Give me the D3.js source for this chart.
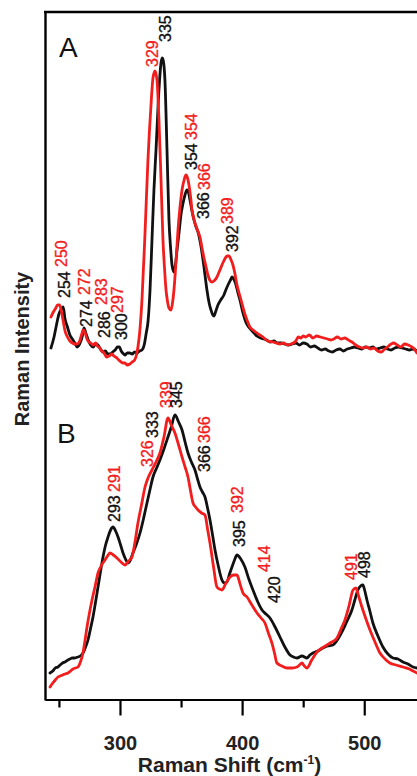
<!DOCTYPE html>
<html><head><meta charset="utf-8">
<script src="https://cdn.jsdelivr.net/npm/d3@7"></script>
<style>html,body{margin:0;padding:0;background:#fff;overflow:hidden}</style>
</head><body><svg id="c" width="417" height="776"></svg>
<script>
// ---------- data ----------
const xTicksMajor = [300, 400, 500];
const xTicksMinor = [250, 350, 450];
const xTitleMain = "Raman Shift (cm";
const xTitleSup = "-1";
const yTitle = "Raman Intensity";
const panelNames = [["A", 250.1, 642], ["B", 248.4, 256]];

// [wavenumber (cm-1), intensity (arb. units, panels stacked)]
const blackA = [[243.5,351],[246,362],[248,374],[250,385],[252,390],[253.5,392],[255,380],[257,372],[259,364],[261,360],[263,356],[265,352],[267,355],[269,362],[270.5,371],[272,366],[274,359],[276,354],[278,352],[280,355],[282,354],[284,350],[286,347],[288,348],[290,345],[292,345],[294,347],[296,349],[298,352],[299.5,352],[301,348],[303,345],[304,344],[306,346],[308,346],[310,345],[312,347],[314,346],[316,348],[318,349],[320,355],[321.5,366],[323,378],[324.6,409],[326.2,459],[327.8,509],[329.5,549],[331.9,609],[333.5,635],[334.5,641],[335.5,638],[336.8,619],[338.5,549],[340.1,479],[341.5,450],[342.6,434],[344.2,427],[345.5,435],[346.7,449],[348.5,468],[349.9,484],[351.5,495],[353.2,504],[354.9,509],[356.2,506],[357.3,499],[359,488],[360.6,479],[362.3,472],[363.9,467],[366,455],[368,439],[369.6,424],[371.2,409],[373,396],[374.5,389],[376,384],[377,383],[378.5,388],[380.2,394],[382.5,399],[385.1,404],[387,410],[389.2,416],[390.5,419],[391.7,422],[393.5,419],[395,414],[396.6,406],[398.2,399],[400.7,386],[403,377],[406,371],[409,367],[412,363],[415,361],[418,360],[420,359],[423,357],[426,358],[429,356],[432,356],[435,355],[438,354],[441,355],[444,356],[447,354],[450,356],[453,355],[456,352],[459,353],[462,351],[465,349],[468,350],[471,348],[474,347],[477,349],[480,350],[483,348],[486,350],[489,351],[492,352],[495,351],[498,350],[501,352],[504,351],[507,352],[510,350],[513,351],[516,352],[519,350],[522,349],[525,351],[528,352],[531,351],[534,350],[537,349],[540,350],[543.2,348]];
const redA = [[243.5,382],[245,386],[247,390],[249,394],[250.5,394],[252,388],[253.5,378],[255,368],[257,362],[259,358],[261,356],[263,355],[265,355],[267,358],[268.5,364],[270,369],[271.5,366],[273,360],[274.5,357],[276,356],[278,354],[280,356],[281.5,353],[283.6,351],[285,348],[287,346],[289,342],[291,343],[293.5,345],[295,343],[297.5,341],[299,339],[301,337],[302.5,336],[304,336],[306,334],[308,335],[310,337],[312,339],[313.5,344],[314.7,352],[316,365],[318,399],[320.5,466],[322.9,539],[325.4,594],[327,621],[328.7,628],[330.3,619],[331.9,579],[333.6,519],[335.2,459],[336.5,430],[337.7,409],[339,397],[340.1,391],[341.8,389],[343,396],[344.2,409],[346,440],[347.5,469],[349,490],[350.8,509],[352.5,519],[354,524],[355.3,521],[356.5,514],[358,500],[358.9,489],[360.5,480],[362.2,473],[364,467],[365.5,462],[367,452],[368.8,441],[370.5,432],[372,424],[373.5,419],[375.3,417],[377,418],[379.4,422],[381.5,428],[383.5,434],[385,438],[386.8,442],[388,443],[389.2,443],[391,439],[392.5,434],[394,426],[395.8,414],[397.5,406],[399.1,399],[402,386],[404,379],[406.4,372],[409,369],[411,367],[414.6,364],[418,361],[421,358],[425.3,357],[428,356],[431,355],[434,356],[437,354],[440,355],[442,356],[444,358],[446,362],[448,361],[450,363],[452,362],[455,364],[458,361],[461,363],[464,362],[467,361],[470,360],[473,359],[475,360],[478,362],[481,360],[484,361],[487,359],[490,357],[493,354],[496,352],[499,351],[502,352],[505,350],[508,351],[511,348],[514,347],[516,349],[519,352],[522,355],[524,356],[527,354],[530,352],[533,355],[536,354],[539,352],[541,350],[543.2,346]];
const blackB = [[242.7,26],[245,28],[247,31],[249.2,32],[251,34],[253,36],[255,37],[257.4,39],[259,40],[261,41],[263,41],[265.6,42],[267.5,43],[269.7,46],[271.5,51],[273.8,59],[275.8,70],[277.9,82],[280,97],[282,112],[284,127],[286.1,142],[288,153],[290.2,162],[292.3,169],[294.3,172],[296.4,168],[298.4,162],[300.5,154],[302.5,146],[304.5,140],[306.5,136],[308.5,139],[310.6,146],[313.5,155],[316.4,166],[319.2,180],[322.1,196],[324.5,209],[327,222],[330,231],[332.7,239],[336,250],[339.3,262],[342,272],[345,284],[348,277],[350.8,269],[353.3,257],[355.7,246],[358.5,237],[361.4,229],[363.5,220],[365.5,212],[367.5,207],[369.6,202],[371.7,191],[373.7,179],[375.8,164],[377.8,149],[380.5,133],[383.5,119],[385.5,116],[387.6,117],[389.7,125],[391.7,132],[393.8,139],[395.8,144],[398.9,140],[402.3,132],[405.5,120],[408.9,109],[412.5,98],[416.3,89],[419.5,85],[422.8,81],[427,72],[431,62],[435,52],[439.2,44],[442,42],[444.9,41],[449,43],[453.1,41],[455.5,44],[458,46],[462,48],[466.2,51],[470,53],[474.4,54],[478.5,60],[482.6,69],[486.3,79],[489.9,89],[492.3,99],[494.8,109],[497,113],[498.9,114],[500.5,108],[502.2,99],[504.6,88],[507.1,76],[511.2,63],[515.3,52],[519.4,45],[523.5,41],[527.6,40],[531.7,37],[535.8,35],[539.9,32],[543.2,31]];
const redB = [[242.7,12],[245,16],[247,19],[249.2,22],[251,23],[253,24],[255,25],[257.4,26],[259.5,28],[261.5,30],[263.5,31],[265.6,32],[267.6,37],[269.7,46],[271.3,58],[273,72],[275,86],[277.1,99],[279.5,112],[282,126],[285,134],[287.7,139],[289.8,143],[291.8,146],[294.6,144],[297.5,141],[300.8,137],[304.1,134],[307,138],[309.8,142],[312.3,157],[314.7,176],[317.6,194],[320.5,212],[323.3,222],[326.2,229],[329.5,237],[332.7,246],[336,262],[339.3,281],[342,274],[345,266],[348,254],[350.8,242],[353.3,232],[355.7,222],[357.8,208],[359.8,196],[361.9,192],[363.9,189],[366.8,186],[369.6,184],[371.7,170],[373.7,156],[376.5,133],[379.4,112],[381.5,110],[383.5,109],[386.8,116],[390.1,122],[393,124],[395.8,124],[398.3,115],[400.7,106],[404,102],[408,94],[412.2,86],[415.5,81],[418.7,76],[421.5,66],[424.4,56],[426.5,46],[428.5,36],[432.5,33],[436.7,31],[441,31],[444.9,32],[447,34],[449,36],[451,33],[453.1,31],[457,39],[461.3,47],[465.5,51],[469.5,54],[473.5,57],[477.7,61],[481,70],[484.2,79],[487.5,93],[490.8,109],[493.2,111],[495.6,102],[498.1,92],[501.4,80],[504.7,69],[508.8,57],[512.9,46],[517,40],[521,36],[526,34],[531.7,32],[537,30],[540,28],[543.2,26]];

// peak labels: [text, wavenumber, intensity, series]
const peakLabels = [
  ["335",341.8,657,"k"],["329",331.1,632,"r"],["354",363.0,559,"r"],["354",363.0,529,"k"],
  ["366",373.7,509,"r"],["366",372.9,480,"k"],["389",392.5,475,"r"],["392",396.6,447,"k"],
  ["250",256.6,432,"r"],["254",259.1,401,"k"],["272",275.4,404,"r"],["274",277.1,372,"k"],
  ["283",289.4,394,"r"],["286",291.8,361,"k"],["297",302.5,386,"r"],["300",305.7,359,"k"],
  ["293",300.0,177,"k"],["291",300.0,207,"r"],["326",327.0,232,"r"],["333",331.1,261,"k"],
  ["339",342.6,291,"r"],["345",350.8,291,"k"],["366",373.7,227,"k"],["366",373.7,256,"r"],
  ["392",400.7,186,"r"],["395",402.3,152,"k"],["414",422.8,127,"r"],["420",431.0,96,"k"],
  ["491",494.0,119,"r"],["498",504.7,121,"k"]
];

// ---------- drawing ----------
const COL = {k: "#111111", r: "#f21d1d"};
const FONT = "'Liberation Sans', Arial, Helvetica, sans-serif";
const svg = d3.select("#c");
svg.append("rect").attr("width",417).attr("height",776).attr("fill","#fff");

const x = d3.scaleLinear().domain([238.6, 543.2]).range([45, 417]);
const y = d3.scaleLinear().domain([0, 687]).range([699, 12]);

const line = d3.line().x(d => x(d[0])).y(d => y(d[1])).curve(d3.curveMonotoneX);

[[blackA,"k"],[blackB,"k"],[redA,"r"],[redB,"r"]].forEach(([data,c]) => {
  svg.append("path").datum(data).attr("d", line)
    .attr("fill","none").attr("stroke",COL[c]).attr("stroke-width",2.8)
    .attr("stroke-linejoin","round").attr("stroke-linecap","round");
});

// frame: top and left
svg.append("line").attr("x1",44).attr("x2",417).attr("y1",12).attr("y2",12)
  .attr("stroke","#000").attr("stroke-width",2.6);
svg.append("line").attr("x1",45.5).attr("x2",45.5).attr("y1",11).attr("y2",700.5)
  .attr("stroke","#000").attr("stroke-width",2.4);

// x axis
const gMinor = svg.append("g").attr("transform","translate(0,699.5)")
  .call(d3.axisBottom(x).tickValues(xTicksMinor).tickSize(8).tickSizeOuter(0).tickFormat(""));
gMinor.select(".domain").remove();
gMinor.selectAll(".tick line").attr("stroke","#000").attr("stroke-width",2.2);

const gMajor = svg.append("g").attr("transform","translate(0,699.5)")
  .call(d3.axisBottom(x).tickValues(xTicksMajor).tickSize(16).tickSizeOuter(0).tickPadding(20).tickFormat(d3.format("d")));
gMajor.select(".domain").attr("stroke","#000").attr("stroke-width",2.2);
gMajor.selectAll(".tick line").attr("stroke","#000").attr("stroke-width",2.2);
gMajor.selectAll(".tick text").attr("fill","#222").style("font-family",FONT)
  .style("font-size","20px").style("font-weight","bold");

// x title
const xt = svg.append("text").attr("x",229.5).attr("y",772).attr("text-anchor","middle")
  .style("font-family",FONT).style("font-size","21px").style("font-weight","bold").attr("fill","#222");
xt.append("tspan").text(xTitleMain);
xt.append("tspan").text(xTitleSup).attr("dy",-8).style("font-size","12px");
xt.append("tspan").text(")").attr("dy",8);

// y title
svg.append("text").attr("transform","translate(29,349) rotate(-90)").attr("text-anchor","middle")
  .style("font-family",FONT).style("font-size","20px").style("font-weight","bold").attr("fill","#222")
  .text(yTitle);

// panel letters
panelNames.forEach(([t,v,i]) => {
  svg.append("text").attr("x",x(v)).attr("y",y(i))
    .style("font-family",FONT).style("font-size","28px").attr("fill","#111").text(t);
});

// peak labels
peakLabels.forEach(([t,v,i,c]) => {
  svg.append("text").attr("transform",`translate(${x(v)},${y(i)}) rotate(-90)`)
    .style("font-family",FONT).style("font-size","16px").attr("fill",COL[c])
    .attr("stroke",COL[c]).attr("stroke-width",0.35).text(t);
});
</script>
</body></html>
